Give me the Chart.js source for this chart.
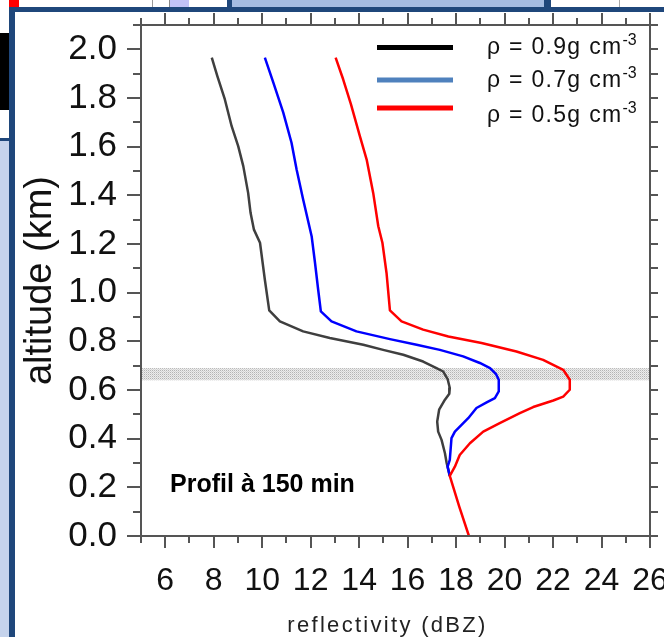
<!DOCTYPE html>
<html>
<head>
<meta charset="utf-8">
<script src="https://cdn.jsdelivr.net/npm/chart.js@4.4.1/dist/chart.umd.min.js"></script>
<style>
    html, body { margin: 0; padding: 0; background: #fff; }
    body { width: 664px; height: 637px; position: relative; overflow: hidden; }
    .deco { position: absolute; }
    #wrap { position: absolute; left: 0; top: 0; width: 664px; height: 637px; z-index: 2; }
</style>
</head>
<body>
<!-- bits of the surrounding slide -->
<div class="deco" style="left:9px;top:0;width:10px;height:7px;background:#ff0000"></div>
<div class="deco" style="left:152px;top:0;width:1px;height:7px;background:#9a9a9a"></div>
<div class="deco" style="left:169px;top:0;width:19px;height:7px;background:#c3c3f7;border-left:1px solid #888"></div>
<div class="deco" style="left:227px;top:0;width:5px;height:7px;background:#1f477b"></div>
<div class="deco" style="left:232px;top:0;width:312px;height:7px;background:#a5bce2"></div>
<div class="deco" style="left:544px;top:0;width:7px;height:7px;background:#1f477b"></div>
<div class="deco" style="left:619px;top:0;width:1px;height:7px;background:#aaa"></div>
<div class="deco" style="left:9px;top:7px;width:655px;height:5px;background:#1f477b"></div>
<div class="deco" style="left:9px;top:7px;width:6px;height:630px;background:#1f477b"></div>
<div class="deco" style="left:0;top:33px;width:9px;height:77px;background:#000"></div>
<div class="deco" style="left:0;top:138px;width:9px;height:3px;background:#1f477b"></div>
<div class="deco" style="left:0;top:141px;width:9px;height:496px;background:#c5d3ec"></div>

<div id="wrap"><canvas id="chart" width="664" height="637"></canvas></div>

<script>
// --- Data (reflectivity in dBZ, altitude in km) ---
const DENSITIES = ['0.9', '0.7', '0.5'];
const LINE_COLORS   = ['#3f3f3f', '#0000ff', '#ff0000'];
const LEGEND_COLORS = ['#000000', '#4f81bd', '#ff0000'];

const DBZ_09 = [7.92, 8.15, 8.46, 8.74, 9.01, 9.22, 9.42, 9.52, 9.66, 9.91, 10.11, 10.29, 10.73, 11.69, 12.79,
    14.17, 14.99, 15.82, 16.64, 17.19, 17.47, 17.65, 17.74, 17.72, 17.54, 17.30, 17.22, 17.26, 17.40, 17.54, 17.61, 17.74];
const ALT_09 = [1.966, 1.890, 1.794, 1.684, 1.602, 1.520, 1.410, 1.328, 1.259, 1.205, 1.053, 0.927, 0.882, 0.841, 0.814,
    0.786, 0.765, 0.745, 0.717, 0.690, 0.676, 0.645, 0.608, 0.585, 0.560, 0.519, 0.470, 0.429, 0.395, 0.340, 0.300, 0.247];

const DBZ_07 = [10.11, 10.46, 10.87, 11.21, 11.42, 11.69, 12.04, 12.18, 12.31, 12.42, 12.86, 13.89, 15.27, 16.37,
    17.33, 18.29, 18.98, 19.40, 19.65, 19.76, 19.76, 19.60, 19.26, 18.84, 18.50, 17.95, 17.81, 17.74, 17.65, 17.74];
const ALT_07 = [1.966, 1.863, 1.740, 1.616, 1.506, 1.383, 1.232, 1.122, 1.012, 0.923, 0.882, 0.841, 0.809, 0.786,
    0.765, 0.738, 0.711, 0.690, 0.665, 0.642, 0.594, 0.567, 0.549, 0.526, 0.484, 0.429, 0.402, 0.313, 0.285, 0.247];

const DBZ_05 = [13.03, 13.34, 13.66, 14.03, 14.31, 14.58, 14.79, 14.96, 15.13, 15.27, 15.75, 16.64, 17.68, 19.05,
    20.49, 21.59, 22.42, 22.69, 22.69, 22.42, 22.01, 21.18, 20.63, 19.80, 19.12, 18.57, 18.15, 17.95, 17.74, 18.13, 18.53];
const ALT_05 = [1.966, 1.877, 1.775, 1.643, 1.547, 1.410, 1.273, 1.205, 1.081, 0.927, 0.882, 0.848, 0.820, 0.793,
    0.758, 0.724, 0.683, 0.642, 0.601, 0.573, 0.557, 0.530, 0.505, 0.464, 0.429, 0.381, 0.333, 0.285, 0.247, 0.121, 0.0];

const X_TICKS = [6, 8, 10, 12, 14, 16, 18, 20, 22, 24, 26];
const Y_TICKS = [0.0, 0.2, 0.4, 0.6, 0.8, 1.0, 1.2, 1.4, 1.6, 1.8, 2.0];
const X_RANGE = [5, 26];
const Y_RANGE = [0, 2.1];
const BAND = [0.64, 0.69];           // shaded melting layer
const NOTE = 'Profil à 150 min';

const FONT = '"Liberation Sans", Arial, sans-serif';
const AXIS_COLOR = '#555';

function toPoints(xs, ys) {
    return xs.map((x, i) => ({ x, y: ys[i] }));
}

// fine grey stipple for the band
function bandPattern(ctx) {
    const c = document.createElement('canvas');
    c.width = 2; c.height = 2;
    const p = c.getContext('2d');
    p.fillStyle = '#ececec';
    p.fillRect(0, 0, 2, 2);
    p.fillStyle = '#b4b4b4';
    p.fillRect(0, 0, 1, 1);
    p.fillStyle = '#d4d4d4';
    p.fillRect(1, 1, 1, 1);
    return ctx.createPattern(c, 'repeat');
}

const decorations = {
    id: 'decorations',
    beforeDatasetsDraw(chart) {
        const { ctx, chartArea: { left, right } } = chart;
        const ys = chart.scales.y;
        const y1 = ys.getPixelForValue(BAND[1]);
        const y0 = ys.getPixelForValue(BAND[0]);
        ctx.save();
        ctx.fillStyle = bandPattern(ctx);
        ctx.fillRect(left, y1, right - left, y0 - y1);
        ctx.restore();
    },
    afterDatasetsDraw(chart) {
        const { ctx, chartArea: { left, right, top, bottom } } = chart;
        const xs = chart.scales.x, ys = chart.scales.y;
        ctx.save();

        // frame + outward ticks on all four sides
        ctx.strokeStyle = AXIS_COLOR;
        ctx.lineWidth = 2;
        ctx.beginPath();
        for (let v = X_RANGE[0]; v <= X_RANGE[1]; v++) {
            const px = Math.round(xs.getPixelForValue(v));
            const len = v % 2 === 0 ? 12 : 7;
            ctx.moveTo(px, bottom); ctx.lineTo(px, bottom + len);
            ctx.moveTo(px, top);    ctx.lineTo(px, top - len);
        }
        for (let i = 0; i <= Math.round(Y_RANGE[1] * 10); i++) {
            const py = Math.round(ys.getPixelForValue(i / 10));
            ctx.moveTo(left, py);  ctx.lineTo(left - (i % 2 === 0 ? 14 : 8), py);
            ctx.moveTo(right, py); ctx.lineTo(right + 8, py);
        }
        ctx.stroke();
        ctx.strokeRect(left, top, right - left, bottom - top);

        // legend (with superscript units)
        const lineY = [top + 22.5, top + 55, top + 83];
        const textY = [top + 29, top + 62, top + 97];
        DENSITIES.forEach((d, i) => {
            ctx.strokeStyle = LEGEND_COLORS[i];
            ctx.lineWidth = 5;
            ctx.beginPath();
            ctx.moveTo(right - 273, lineY[i]);
            ctx.lineTo(right - 197, lineY[i]);
            ctx.stroke();

            ctx.fillStyle = '#111';
            ctx.textAlign = 'left';
            ctx.textBaseline = 'alphabetic';
            ctx.font = `23px ${FONT}`;
            ctx.letterSpacing = '1.3px';
            const main = `ρ = ${d}g cm`;
            ctx.fillText(main, right - 163, textY[i]);
            const w = ctx.measureText(main).width;
            ctx.font = `16px ${FONT}`;
            ctx.letterSpacing = '0px';
            ctx.fillText('-3', right - 163 + w, textY[i] - 9);
        });

        // annotation
        ctx.fillStyle = '#000';
        ctx.font = `bold 25px ${FONT}`;
        ctx.letterSpacing = '0px';
        ctx.textAlign = 'left';
        ctx.fillText(NOTE, xs.getPixelForValue(6.2), ys.getPixelForValue(0.18));

        // x-axis title (spaced out like the original)
        ctx.fillStyle = '#222';
        ctx.font = `22px ${FONT}`;
        ctx.letterSpacing = '2.3px';
        ctx.textAlign = 'center';
        ctx.textBaseline = 'middle';
        ctx.fillText('reflectivity (dBZ)', (left + right) / 2 - 8, 626);
        ctx.restore();
    }
};

new Chart(document.getElementById('chart'), {
    type: 'line',
    data: {
        datasets: [
            { label: 'ρ = 0.5g cm-3', data: toPoints(DBZ_05, ALT_05), borderColor: LINE_COLORS[2] },
            { label: 'ρ = 0.7g cm-3', data: toPoints(DBZ_07, ALT_07), borderColor: LINE_COLORS[1] },
            { label: 'ρ = 0.9g cm-3', data: toPoints(DBZ_09, ALT_09), borderColor: LINE_COLORS[0] },
        ].map(ds => ({ ...ds, borderWidth: 2.5, pointRadius: 0, fill: false, tension: 0, borderJoinStyle: 'round' }))
    },
    options: {
        responsive: false,
        animation: false,
        events: [],
        layout: { autoPadding: false, padding: { left: 0, right: 14, top: 25, bottom: 0 } },
        plugins: { legend: { display: false }, tooltip: { enabled: false } },
        scales: {
            x: {
                type: 'linear',
                min: X_RANGE[0], max: X_RANGE[1],
                grid: { display: false, drawTicks: false },
                border: { display: false },
                afterBuildTicks: s => { s.ticks = X_TICKS.map(v => ({ value: v })); },
                afterFit: s => { s.height = 101; s.paddingLeft = 0; s.paddingRight = 0; },
                ticks: { padding: 26, color: '#111', font: { family: FONT, size: 32 }, maxRotation: 0, autoSkip: false },
            },
            y: {
                type: 'linear',
                min: Y_RANGE[0], max: Y_RANGE[1],
                grid: { display: false, drawTicks: false },
                border: { display: false },
                afterBuildTicks: s => { s.ticks = Y_TICKS.map(v => ({ value: v })); },
                afterFit: s => { s.width = 141; s.paddingTop = 0; s.paddingBottom = 0; },
                ticks: { padding: 24, color: '#111', font: { family: FONT, size: 35 }, autoSkip: false,
                         callback: v => v.toFixed(1) },
                title: {
                    display: true, text: 'altitude (km)', color: '#111',
                    font: { family: FONT, size: 38, lineHeight: 1 },
                    padding: { top: 22, bottom: 0 },
                },
            },
        },
    },
    plugins: [decorations],
});
</script>
</body>
</html>
